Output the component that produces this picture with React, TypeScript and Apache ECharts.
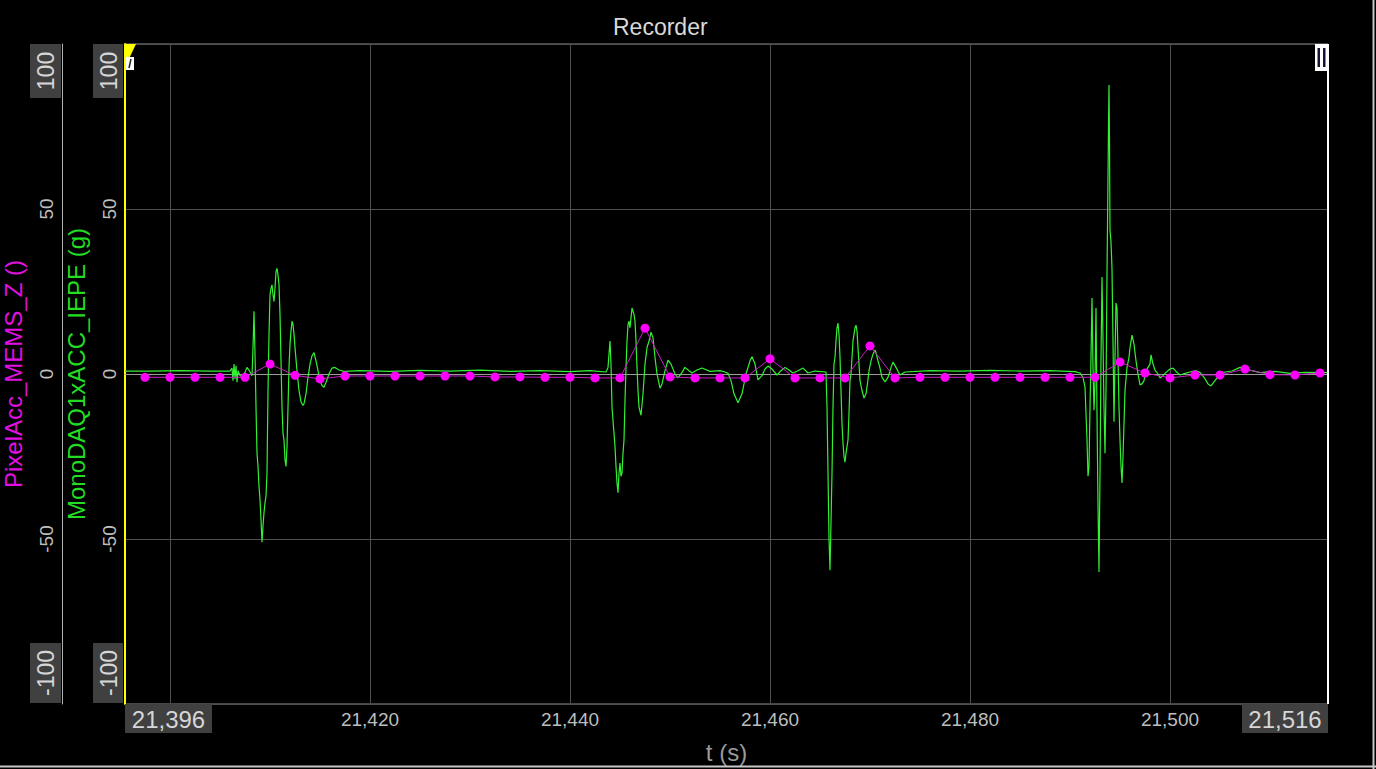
import React, { useEffect, useRef } from 'react';
import * as echarts from 'echarts';

const FONT = '"Liberation Sans", Arial, sans-serif';

// Axis extents / ticks
const xMin = 21395.5;
const xMax = 21515.8;
const xGridTimes = [21400, 21420, 21440, 21460, 21480, 21500];
const xLabelTimes = [21420, 21440, 21460, 21480, 21500];
const yMin = -100;
const yMax = 100;
const yInterval = 50;

// PixelAcc_MEMS_Z () — sampled points
const pixelT = [
  21397.5, 21400, 21402.5, 21405, 21407.5, 21410, 21412.5, 21415, 21417.5, 21420,
  21422.5, 21425, 21427.5, 21430, 21432.5, 21435, 21437.5, 21440, 21442.5, 21445,
  21447.5, 21450, 21452.5, 21455, 21457.5, 21460, 21462.5, 21465, 21467.5, 21470,
  21472.5, 21475, 21477.5, 21480, 21482.5, 21485, 21487.5, 21490, 21492.5, 21495,
  21497.5, 21500, 21502.5, 21505, 21507.5, 21510, 21512.5, 21515,
];
const pixelV = [
  -1.0, -1.0, -1.0, -1.0, -1.0, 3.0, -0.4, -1.5, -0.6, -0.6,
  -0.6, -0.6, -0.6, -0.6, -0.9, -0.9, -1.0, -1.0, -1.2, -1.2,
  13.9, -0.9, -1.2, -1.2, -1.2, 4.6, -1.2, -1.2, -1.2, 8.5,
  -1.2, -1.0, -1.0, -1.0, -1.0, -1.0, -1.0, -1.0, -1.0, 3.6,
  0.3, -1.2, -0.3, -0.3, 1.5, -0.2, -0.3, 0.3,
];

// MonoDAQ1xACC_IEPE (g) — traced from the signal
const monoT = [
  21395.5, 21398, 21401, 21404, 21406.0, 21406.2, 21406.3, 21406.4, 21406.5, 21406.6,
  21406.7, 21406.8, 21407.0, 21407.3, 21407.5, 21407.7, 21407.9, 21408.2, 21408.3, 21408.4,
  21408.5, 21408.6, 21408.7, 21408.8, 21408.9, 21409.0, 21409.1, 21409.2, 21409.3, 21409.4,
  21409.5, 21409.6, 21409.7, 21409.8, 21409.9, 21410.0, 21410.1, 21410.2, 21410.3, 21410.4,
  21410.5, 21410.6, 21410.7, 21410.8, 21410.9, 21411.0, 21411.1, 21411.2, 21411.3, 21411.4,
  21411.5, 21411.6, 21411.7, 21411.8, 21411.9, 21412.0, 21412.1, 21412.2, 21412.3, 21412.4,
  21412.5, 21412.7, 21412.9, 21413.1, 21413.3, 21413.4, 21413.6, 21413.8, 21414.0, 21414.2,
  21414.4, 21414.6, 21414.8, 21415.0, 21415.2, 21415.4, 21415.6, 21415.9, 21416.2, 21416.5,
  21416.9, 21417.4, 21419, 21422, 21425, 21428, 21431, 21434, 21437, 21440,
  21442, 21443.6, 21443.8, 21443.9, 21444.0, 21444.1, 21444.2, 21444.3, 21444.4, 21444.5,
  21444.6, 21444.7, 21444.8, 21444.9, 21445.0, 21445.1, 21445.2, 21445.3, 21445.4, 21445.5,
  21445.6, 21445.7, 21445.8, 21445.9, 21446.0, 21446.1, 21446.2, 21446.3, 21446.4, 21446.5,
  21446.6, 21446.7, 21446.8, 21446.9, 21447.1, 21447.3, 21447.5, 21447.7, 21447.9, 21448.1,
  21448.3, 21448.5, 21448.7, 21449.0, 21449.2, 21449.5, 21449.8, 21450.1, 21450.5, 21450.8,
  21451.2, 21451.5, 21451.9, 21452.2, 21452.7, 21453.2, 21454, 21455, 21455.5, 21455.8,
  21456.1, 21456.4, 21456.8, 21457.2, 21457.6, 21458.0, 21458.2, 21458.5, 21458.8, 21459.2,
  21459.5, 21459.8, 21460.2, 21460.7, 21461.1, 21461.5, 21461.9, 21462.3, 21462.8, 21463.3,
  21463.8, 21464.5, 21465.6, 21465.7, 21465.8, 21465.9, 21466.0, 21466.1, 21466.2, 21466.3,
  21466.4, 21466.5, 21466.6, 21466.7, 21466.8, 21466.9, 21467.0, 21467.1, 21467.2, 21467.3,
  21467.4, 21467.5, 21467.6, 21467.7, 21467.8, 21467.9, 21468.0, 21468.1, 21468.2, 21468.3,
  21468.4, 21468.5, 21468.6, 21468.7, 21468.8, 21468.9, 21469.0, 21469.2, 21469.4, 21469.6,
  21469.7, 21469.9, 21470.1, 21470.3, 21470.5, 21470.6, 21470.8, 21471.0, 21471.2, 21471.5,
  21471.8, 21472.1, 21472.3, 21472.6, 21473.0, 21473.5, 21476, 21479, 21482, 21485,
  21488, 21490.5, 21491.0, 21491.3, 21491.5, 21491.7, 21491.8, 21491.9, 21492.0, 21492.1,
  21492.2, 21492.3, 21492.4, 21492.5, 21492.6, 21492.7, 21492.8, 21492.9, 21493.0, 21493.1,
  21493.2, 21493.3, 21493.4, 21493.5, 21493.6, 21493.7, 21493.8, 21493.85, 21493.9, 21493.95,
  21494.0, 21494.1, 21494.2, 21494.3, 21494.4, 21494.5, 21494.6, 21494.7, 21494.8, 21494.9,
  21495.0, 21495.1, 21495.2, 21495.3, 21495.5, 21495.7, 21495.9, 21496.0, 21496.2, 21496.4,
  21496.6, 21496.8, 21497.0, 21497.2, 21497.4, 21497.6, 21497.8, 21498.0, 21498.1, 21498.3,
  21498.5, 21498.8, 21499.0, 21499.3, 21499.6, 21500.0, 21500.3, 21500.7, 21501.0, 21501.5,
  21502.0, 21502.6, 21503.0, 21503.4, 21503.8, 21504.1, 21504.5, 21505.0, 21505.5, 21506.2,
  21507.0, 21507.6, 21508.2, 21509, 21510.5, 21512, 21513.5, 21515.8,
];
const monoV = [
  0.9, 0.9, 1.0, 0.9, 0.9, 1.8, -2.0, 3.0, -1.5, 2.5,
  -2.5, 1.0, -0.5, -0.8, 0.5, 2.0, 1.2, -0.5, 8, 19,
  6, -10, -24, -28, -34, -38, -44, -51, -46, -42,
  -39, -37, -30, -5, 12, 24, 26, 27, 24, 22,
  26, 31, 32, 30, 27, 18, 4, -10, -18, -20,
  -26, -28, -22, -10, 2, 9, 13, 16, 15, 12,
  8, 1, -5, -8.5, -9.5, -9, -6, -1, 3, 5.5,
  6.5, 4, 1, -2, -3.5, -4, -2.5, 0, 1.8, 2,
  1.2, 0.8, 1.0, 0.8, 1.1, 0.9, 1.2, 0.8, 1.0, 0.7,
  1.0, 0.6, 2, 6, 10, 3, -10, -14, -18, -22,
  -28, -33, -36, -30, -27, -31, -30, -24, -20, -8,
  2, 10, 15, 16, 14, 17, 20, 19, 18, 16,
  10, 2, -5, -10, -12.5, -6, 3, 8, 10, 12.7,
  11, 5, 0, -4.3, -3, 1, 4.2, 3, 0, -1.2,
  0.5, 2, 1, 0.3, 1.2, 1.8, 0.8, 1.0, 0.6, 0.2,
  -2, -6, -8.7, -6, 0, 4, 5.2, 3, -1.8, -0.5,
  1.5, 2.4, 1.5, -0.3, 1, 2, 1.2, 0.3, 1, 1.8,
  0.3, 0.9, 0.6, -10, -30, -50, -59.5, -45, -30, -10,
  3, 5, 10, 14, 15.4, 12, 5, -5, -15, -21,
  -25, -26.7, -24, -22, -20, -12, -2, 0, 5, 10,
  12, 14, 14.8, 13, 8, 3, -2, -5, -7.3, -6,
  -4, 1, 4, 6, 7.3, 6.5, 4, 1.8, -1, -2.4,
  -1, 2, 3.6, 2, -0.3, 0.6, 1.0, 0.9, 1.1, 0.9,
  1.0, 0.7, 0.3, -1, -4, -20, -31, -28, -10, 5,
  23, 2, -11, -2, 20, -12, -40, -60, -30, 5,
  29.4, 10, -10, -24, -5, 30, 60, 75, 87.6, 70,
  43.6, 40, 32, 10, -14.5, 5, 21.5, 20, 5, -10,
  -20, -28, -33, -25, -5, 2, 5, 8, 11.8, 9,
  4, 0, -3.3, -3, -2, 1, 2, 3, 5.8, 3,
  1.2, 0, -1.2, -0.5, 0.5, 1.5, 1.8, 0.5, -0.3, 0.2,
  0.6, 1.0, 0.5, -1, -3, -3.6, -2, 0, 0.6, 0.9,
  2.0, 1.6, 1.0, 0.4, 0.8, 0.2, 0.5, 0.4,
];

const fmt = (v: number) => Math.round(v).toLocaleString('en-US');

export default function App() {
  const ref = useRef<HTMLDivElement>(null);

  useEffect(() => {
    if (!ref.current) return;
    const chart = echarts.init(ref.current, null, { renderer: 'svg' });

    const boxFill = '#404040';
    const boxText = '#d6d6d6';
    const rotText = (text: string, cx: number, cy: number) => ({
      type: 'text',
      x: cx,
      y: cy,
      rotation: Math.PI / 2,
      z: 101,
      style: { text, fill: boxText, font: `23px ${FONT}`, align: 'center', verticalAlign: 'middle' },
    });

    const option: any = {
      animation: false,
      backgroundColor: '#000000',
      textStyle: { fontFamily: FONT },
      title: {
        text: 'Recorder',
        left: 613,
        top: 15,
        padding: 0,
        textStyle: { color: '#d9d9d9', fontSize: 23, fontWeight: 'normal', fontFamily: FONT },
      },
      grid: {
        left: 125,
        right: 48,
        top: 44,
        bottom: 65,
        containLabel: false,
        outerBoundsMode: 'none',
        show: true,
        borderColor: '#8c8c8c',
        borderWidth: 1,
      },
      xAxis: {
        type: 'value',
        min: xMin,
        max: xMax,
        name: 't (s)',
        nameLocation: 'middle',
        nameGap: 36,
        nameTextStyle: { color: '#9a9a9a', fontSize: 24, fontFamily: FONT },
        axisLine: { show: true, lineStyle: { color: '#9a9a9a', width: 1 } },
        axisTick: { show: false },
        splitLine: { show: false },
        axisLabel: {
          customValues: xLabelTimes,
          color: '#bdbdbd',
          fontSize: 19,
          margin: 6,
          formatter: (v: number) => fmt(v),
        },
      },
      yAxis: [
        {
          type: 'value',
          min: yMin,
          max: yMax,
          interval: yInterval,
          position: 'left',
          name: 'MonoDAQ1xACC_IEPE (g)',
          nameLocation: 'middle',
          nameGap: 37,
          nameTextStyle: { color: '#22dd22', fontSize: 24, fontFamily: FONT },
          axisLine: { show: true, lineStyle: { color: '#ffff00', width: 2 } },
          axisTick: { show: false },
          axisLabel: {
            rotate: 90,
            color: '#bdbdbd',
            fontSize: 19,
            margin: 6,
            showMinLabel: false,
            showMaxLabel: false,
          },
          splitLine: { show: true, lineStyle: { color: '#4f4f4f', width: 1 } },
        },
        {
          type: 'value',
          min: yMin,
          max: yMax,
          interval: yInterval,
          position: 'left',
          offset: 63,
          name: 'PixelAcc_MEMS_Z ()',
          nameLocation: 'middle',
          nameGap: 37,
          nameTextStyle: { color: '#e010e0', fontSize: 24, fontFamily: FONT },
          axisLine: { show: true, lineStyle: { color: '#b0b0b0', width: 1 } },
          axisTick: { show: false },
          axisLabel: {
            rotate: 90,
            color: '#bdbdbd',
            fontSize: 19,
            margin: 6,
            showMinLabel: false,
            showMaxLabel: false,
          },
          splitLine: { show: false },
        },
      ],
      series: [
        {
          name: 'MonoDAQ1xACC_IEPE',
          type: 'line',
          yAxisIndex: 0,
          data: monoT.map((t, i) => [t, monoV[i]]),
          showSymbol: false,
          lineStyle: { color: '#33f033', width: 1.2 },
          itemStyle: { color: '#33f033' },
          z: 3,
          markLine: {
            silent: true,
            symbol: ['none', 'none'],
            label: { show: false },
            lineStyle: { color: '#4f4f4f', width: 1, type: 'solid' },
            z: 1,
            data: xGridTimes.map((t) => ({ xAxis: t })),
          },
        },
        {
          name: 'PixelAcc_MEMS_Z',
          type: 'line',
          yAxisIndex: 1,
          data: pixelT.map((t, i) => [t, pixelV[i]]),
          showSymbol: true,
          symbol: 'circle',
          symbolSize: 9,
          lineStyle: { color: '#c81ec8', width: 1 },
          itemStyle: { color: '#ff00ff', borderWidth: 0 },
          z: 4,
        },
      ],
      graphic: [
        // window frame
        { type: 'line', shape: { x1: 0, y1: 766.5, x2: 1376, y2: 766.5 }, style: { stroke: '#c8c8c8', lineWidth: 2 }, z: 100 },
        { type: 'line', shape: { x1: 1373.5, y1: 0, x2: 1373.5, y2: 769 }, style: { stroke: '#c8c8c8', lineWidth: 2 }, z: 100 },
        // right cursor (II)
        { type: 'line', shape: { x1: 1328, y1: 44, x2: 1328, y2: 704 }, style: { stroke: '#ffffff', lineWidth: 2 }, z: 100 },
        { type: 'rect', shape: { x: 1315, y: 44, width: 14, height: 27 }, style: { fill: '#ffffff' }, z: 101 },
        { type: 'rect', shape: { x: 1317.5, y: 48, width: 2.5, height: 19 }, style: { fill: '#1a1030' }, z: 102 },
        { type: 'rect', shape: { x: 1323, y: 48, width: 2.5, height: 19 }, style: { fill: '#1a1030' }, z: 102 },
        // left cursor (I)
        { type: 'polygon', shape: { points: [[125, 44], [136, 44], [126, 65]] }, style: { fill: '#ffff00' }, z: 101 },
        { type: 'rect', shape: { x: 126, y: 57, width: 8, height: 13 }, style: { fill: '#ffffff' }, z: 102 },
        { type: 'line', shape: { x1: 131, y1: 59, x2: 129, y2: 68 }, style: { stroke: '#202020', lineWidth: 1.5 }, z: 103 },
        // boxed y edge labels
        { type: 'rect', shape: { x: 30, y: 44, width: 31, height: 54 }, style: { fill: boxFill }, z: 100 },
        { type: 'rect', shape: { x: 93, y: 44, width: 30, height: 54 }, style: { fill: boxFill }, z: 100 },
        { type: 'rect', shape: { x: 30, y: 643, width: 31, height: 60 }, style: { fill: boxFill }, z: 100 },
        { type: 'rect', shape: { x: 93, y: 643, width: 30, height: 60 }, style: { fill: boxFill }, z: 100 },
        rotText(String(yMax), 46, 71),
        rotText(String(yMax), 108.5, 71),
        rotText(String(yMin), 46, 673),
        rotText(String(yMin), 108.5, 673),
        // boxed x edge labels
        { type: 'rect', shape: { x: 125, y: 704, width: 87, height: 29 }, style: { fill: boxFill }, z: 100 },
        { type: 'rect', shape: { x: 1242, y: 704, width: 86, height: 29 }, style: { fill: boxFill }, z: 100 },
        {
          type: 'text', x: 168.5, y: 719, z: 101,
          style: { text: fmt(xMin), fill: boxText, font: `24px ${FONT}`, align: 'center', verticalAlign: 'middle' },
        },
        {
          type: 'text', x: 1285, y: 719, z: 101,
          style: { text: fmt(xMax), fill: boxText, font: `24px ${FONT}`, align: 'center', verticalAlign: 'middle' },
        },
      ],
    };

    chart.setOption(option);
    return () => chart.dispose();
  }, []);

  return (
    <div
      ref={ref}
      style={{ position: 'fixed', left: 0, top: 0, width: 1376, height: 769, background: '#000' }}
    />
  );
}
